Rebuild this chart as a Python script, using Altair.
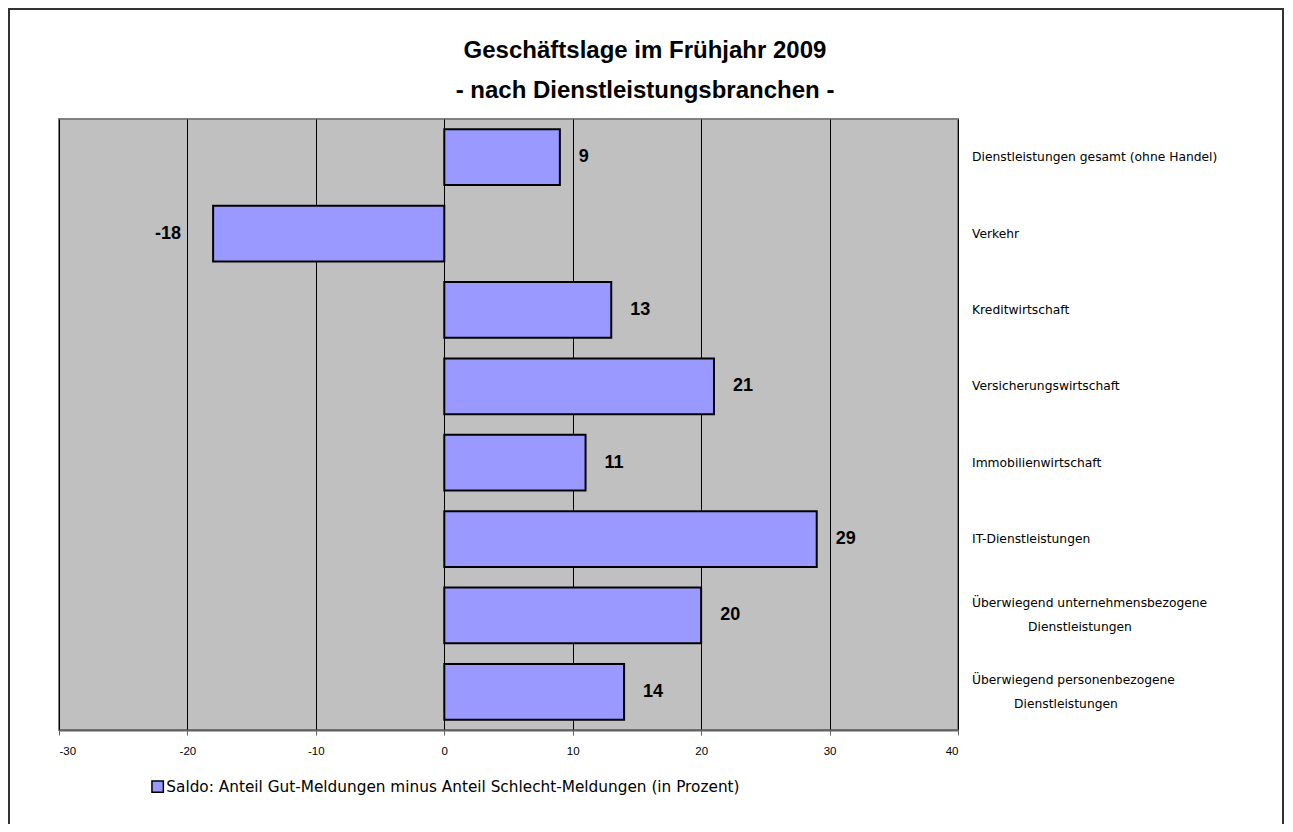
import altair as alt
import pandas as pd

categories = [
    "Dienstleistungen gesamt (ohne Handel)",
    "Verkehr",
    "Kreditwirtschaft",
    "Versicherungswirtschaft",
    "Immobilienwirtschaft",
    "IT-Dienstleistungen",
    "Überwiegend unternehmensbezogene|Dienstleistungen",
    "Überwiegend personenbezogene|Dienstleistungen",
]
values = [9, -18, 13, 21, 11, 29, 20, 14]
x_ticks = [-30, -20, -10, 0, 10, 20, 30, 40]
series_name = "Saldo: Anteil Gut-Meldungen minus Anteil Schlecht-Meldungen (in Prozent)"
title_lines = ["Geschäftslage im Frühjahr 2009", "- nach Dienstleistungsbranchen -"]

df = pd.DataFrame({"cat": categories, "value": values, "series": series_name})
df["line1"] = df["cat"].str.split("|").str[0]
df["line2"] = df["cat"].apply(lambda s: s.split("|")[1] if "|" in s else "")
df["multi"] = df["cat"].str.contains("|", regex=False)
df["vlabel"] = df["value"].astype(str)

W, H = 899, 611
BAR = "#9999FF"

x_enc = alt.X(
    "value:Q",
    scale=alt.Scale(domain=[-30, 40], nice=False, zero=False),
    axis=alt.Axis(
        values=x_ticks, title=None, grid=True, gridColor="#000000", gridWidth=1,
        domainColor="#606060", domainWidth=2, tickColor="#606060", tickSize=5,
        labelFont="Liberation Sans", labelFontSize=11.5, labelColor="#000000",
        labelPadding=10, labelExpr="replace(datum.label, '\u2212', '-')",
    ),
)
y_sc = alt.Scale(domain=categories, paddingInner=0.27, paddingOuter=0.135)
y_enc = alt.Y("cat:N", sort=categories, scale=y_sc, axis=None)

bars = alt.Chart(df).mark_bar(stroke="#000000", strokeWidth=2).encode(
    x=x_enc,
    x2=alt.datum(0),
    y=y_enc,
    color=alt.Color(
        "series:N",
        scale=alt.Scale(range=[BAR]),
        legend=alt.Legend(
            orient="none", legendX=91, legendY=660, title=None,
            symbolType="square", symbolSize=130, symbolStrokeColor="#000000",
            symbolStrokeWidth=1.5, symbolOpacity=1,
            labelFont="DejaVu Sans", labelFontSize=15.3, labelColor="#000000",
            labelLimit=800, labelOffset=1,
        ),
    ),
)

pos_labels = alt.Chart(df).transform_filter("datum.value >= 0").mark_text(
    align="left", baseline="middle", dx=19, font="Liberation Sans",
    fontSize=18, fontWeight="bold", color="#000000",
).encode(x="value:Q", y=alt.Y("cat:N", sort=categories), text="vlabel:N")

neg_labels = alt.Chart(df).transform_filter("datum.value < 0").mark_text(
    align="right", baseline="middle", dx=-32, font="Liberation Sans",
    fontSize=18, fontWeight="bold", color="#000000",
).encode(x="value:Q", y=alt.Y("cat:N", sort=categories), text="vlabel:N")

LBL = dict(font="DejaVu Sans", fontSize=12.3, color="#000000", align="left", baseline="middle")

cat_single = alt.Chart(df).transform_filter("!datum.multi").mark_text(**LBL).encode(
    x=alt.value(W + 14), y=alt.Y("cat:N", sort=categories), text="line1:N")

cat_multi1 = alt.Chart(df).transform_filter("datum.multi").mark_text(dy=-12, **LBL).encode(
    x=alt.value(W + 14), y=alt.Y("cat:N", sort=categories), text="line1:N")

cat_multi2 = alt.Chart(df).transform_filter("datum.multi").transform_calculate(
    px=f"{W + 14} + (length(datum.line1) - length(datum.line2)) * 3.5"
).mark_text(dy=12, **LBL).encode(
    x=alt.X("px:Q", scale=None), y=alt.Y("cat:N", sort=categories), text="line2:N")

title = alt.Chart(pd.DataFrame({"t": [0]})).mark_text(
    align="center", baseline="alphabetic", font="Liberation Sans", fontSize=24,
    fontWeight="bold", color="#000000", lineHeight=40,
).encode(x=alt.value(586), y=alt.value(-61), text=alt.value(title_lines))

frame = alt.Chart(pd.DataFrame({"a": [0]})).mark_rect(
    fill=None, stroke="#333333", strokeWidth=2, clip=False
).encode(
    x=alt.value(-50), x2=alt.value(1224), y=alt.value(-110), y2=alt.value(H + 200)
)

chart = alt.layer(
    frame, bars, pos_labels, neg_labels, cat_single, cat_multi1, cat_multi2, title
).properties(
    width=W, height=H,
    autosize=alt.AutoSizeParams(type="none"),
    padding={"left": 51, "top": 111, "right": 327, "bottom": 94},
).configure_view(
    fill="#C0C0C0", stroke="#808080", strokeWidth=2
)

chart.save("out.html", embed_options={"renderer": "svg", "actions": False})
